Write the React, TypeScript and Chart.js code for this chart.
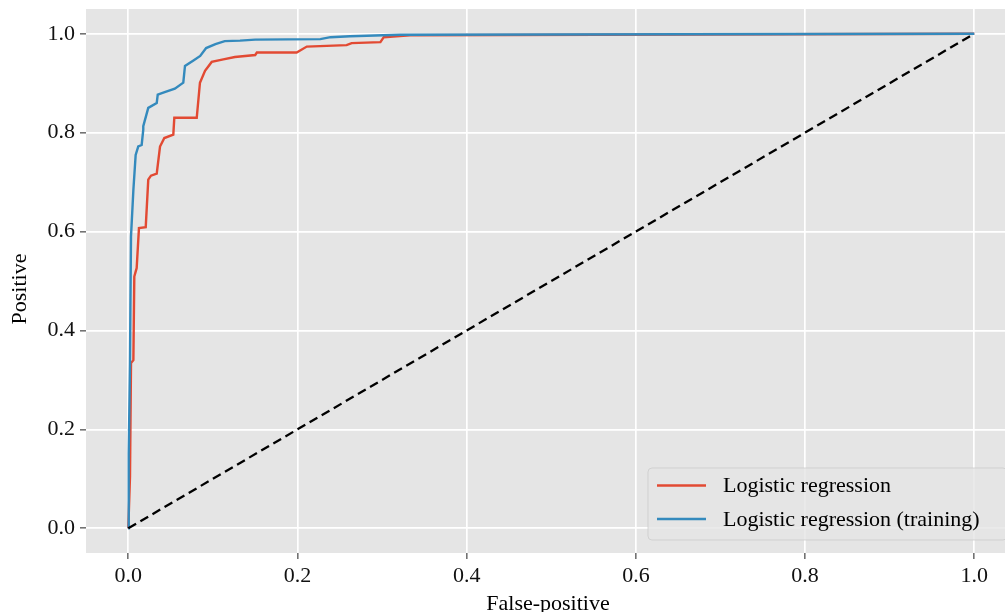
import React, { useEffect, useRef } from "react";
import { Chart, registerables } from "chart.js";

Chart.register(...registerables);

// ROC curve: test set (red)
const RED_FPR = [
  0, 0.002, 0.0032, 0.006, 0.0071, 0.0087, 0.0099, 0.0126, 0.0206, 0.0236, 0.0268,
  0.0336, 0.0375, 0.0426, 0.0532, 0.0544, 0.0809, 0.0847, 0.0907, 0.0986, 0.1123,
  0.126, 0.15, 0.152, 0.199, 0.211, 0.258, 0.264, 0.298, 0.302, 0.317, 0.333, 1.0,
];
const RED_TPR = [
  0, 0.104, 0.334, 0.34, 0.509, 0.519, 0.526, 0.607, 0.609, 0.705, 0.713,
  0.717, 0.772, 0.789, 0.796, 0.83, 0.83, 0.901, 0.925, 0.943, 0.948,
  0.953, 0.957, 0.962, 0.962, 0.974, 0.977, 0.981, 0.983, 0.993, 0.995, 0.997, 1.0,
];

// ROC curve: training set (blue)
const BLUE_FPR = [
  0, 0.0005, 0.002, 0.0025, 0.0032, 0.006, 0.0087, 0.0118, 0.0158, 0.0177, 0.0177,
  0.0236, 0.0336, 0.0348, 0.043, 0.055, 0.065, 0.067, 0.077, 0.085, 0.092, 0.103,
  0.114, 0.132, 0.15, 0.227, 0.239, 0.262, 0.321, 1.0,
];
const BLUE_TPR = [
  0, 0.15, 0.334, 0.45, 0.59, 0.684, 0.755, 0.772, 0.775, 0.806, 0.813,
  0.85, 0.86, 0.877, 0.882, 0.889, 0.901, 0.935, 0.946, 0.955, 0.971, 0.979,
  0.985, 0.986, 0.988, 0.989, 0.993, 0.995, 0.998, 1.0,
];

// Chance diagonal
const CHANCE_FPR = [0, 1];
const CHANCE_TPR = [0, 1];

const X_TICKS = [0, 0.2, 0.4, 0.6, 0.8, 1.0];
const Y_TICKS = [0, 0.2, 0.4, 0.6, 0.8, 1.0];
const SERIES_LABELS = ["Logistic regression", "Logistic regression (training)"];
const SERIES_COLORS = ["#E24A33", "#348ABD"];
const X_TITLE = "False-positive";
const Y_TITLE = "Positive";

const FONT_FAMILY = "'Liberation Serif', 'Times New Roman', serif";
const FONT_SIZE = 22;

const zip = (xs: number[], ys: number[]) => xs.map((x, i) => ({ x, y: ys[i] }));

const bgPlugin = {
  id: "plotBg",
  beforeDraw(chart: any) {
    const { ctx, chartArea } = chart;
    ctx.save();
    ctx.fillStyle = "#E5E5E5";
    ctx.fillRect(chartArea.left, chartArea.top, chartArea.right - chartArea.left, chartArea.bottom - chartArea.top);
    ctx.restore();
  },
};

const overlayPlugin = {
  id: "overlay",
  afterDraw(chart: any) {
    const { ctx, chartArea } = chart;
    const { right, bottom } = chartArea;
    ctx.save();
    // legend box
    const bx = right - 357;
    const by = bottom - 85;
    const bw = 359;
    const bh = 72;
    const r = 4;
    ctx.beginPath();
    ctx.moveTo(bx + r, by);
    ctx.lineTo(bx + bw - r, by);
    ctx.arcTo(bx + bw, by, bx + bw, by + r, r);
    ctx.lineTo(bx + bw, by + bh - r);
    ctx.arcTo(bx + bw, by + bh, bx + bw - r, by + bh, r);
    ctx.lineTo(bx + r, by + bh);
    ctx.arcTo(bx, by + bh, bx, by + bh - r, r);
    ctx.lineTo(bx, by + r);
    ctx.arcTo(bx, by, bx + r, by, r);
    ctx.closePath();
    ctx.fillStyle = "rgba(229,229,229,0.8)";
    ctx.fill();
    ctx.strokeStyle = "rgba(204,204,204,0.8)";
    ctx.lineWidth = 1;
    ctx.stroke();

    ctx.font = `${FONT_SIZE}px ${FONT_FAMILY}`;
    ctx.textBaseline = "middle";
    ctx.textAlign = "left";
    const rows = [by + 17.5, by + 51];
    SERIES_LABELS.forEach((lab, i) => {
      ctx.strokeStyle = SERIES_COLORS[i];
      ctx.lineWidth = 2.4;
      ctx.beginPath();
      ctx.moveTo(bx + 9, rows[i]);
      ctx.lineTo(bx + 58, rows[i]);
      ctx.stroke();
      ctx.fillStyle = "#000";
      ctx.fillText(lab, bx + 75, rows[i] + 1);
    });

    // axis titles
    ctx.fillStyle = "#000";
    ctx.textAlign = "center";
    ctx.textBaseline = "alphabetic";
    ctx.fillText(X_TITLE, 548, 610);
    ctx.save();
    ctx.translate(26, 289);
    ctx.rotate(-Math.PI / 2);
    ctx.fillText(Y_TITLE, 0, 0);
    ctx.restore();
    ctx.restore();
  },
};

export default function App() {
  const ref = useRef<HTMLCanvasElement | null>(null);
  useEffect(() => {
    if (!ref.current) return;
    const chart = new Chart(ref.current, {
      type: "scatter",
      data: {
        datasets: [
          {
            label: "chance",
            data: zip(CHANCE_FPR, CHANCE_TPR),
            showLine: true,
            borderColor: "#000",
            borderWidth: 2.3,
            borderDash: [9, 5],
            pointRadius: 0,
            order: 0,
          },
          {
            label: SERIES_LABELS[1],
            data: zip(BLUE_FPR, BLUE_TPR),
            showLine: true,
            borderColor: SERIES_COLORS[1],
            borderWidth: 2.4,
            pointRadius: 0,
            tension: 0,
            order: 1,
          },
          {
            label: SERIES_LABELS[0],
            data: zip(RED_FPR, RED_TPR),
            showLine: true,
            borderColor: SERIES_COLORS[0],
            borderWidth: 2.4,
            pointRadius: 0,
            tension: 0,
            order: 2,
          },
        ],
      },
      options: {
        responsive: false,
        animation: false,
        events: [],
        layout: { padding: { top: 9, right: 0, left: 0, bottom: 0 } },
        plugins: { legend: { display: false }, tooltip: { enabled: false } },
        scales: {
          x: {
            type: "linear",
            min: -0.05,
            max: 1.0363,
            afterBuildTicks: (s: any) => {
              s.ticks = X_TICKS.map((v) => ({ value: v }));
            },
            afterFit: (s: any) => {
              s.height = 59;
              s.paddingLeft = 0;
              s.paddingRight = 0;
            },
            ticks: {
              font: { family: FONT_FAMILY, size: FONT_SIZE },
              color: "#111",
              padding: 4,
              maxRotation: 0,
              autoSkip: false,
              callback: (v: any) => Number(v).toFixed(1),
            },
            grid: { color: "#FFFFFF", lineWidth: 1.7, tickColor: "#444", tickLength: 6, tickWidth: 1.2 },
            border: { display: false },
          },
          y: {
            type: "linear",
            min: -0.05,
            max: 1.05,
            afterBuildTicks: (s: any) => {
              s.ticks = Y_TICKS.map((v) => ({ value: v }));
            },
            afterFit: (s: any) => {
              s.width = 86;
              s.paddingTop = 0;
              s.paddingBottom = 0;
            },
            ticks: {
              font: { family: FONT_FAMILY, size: FONT_SIZE },
              color: "#111",
              padding: 5,
              autoSkip: false,
              callback: (v: any) => Number(v).toFixed(1),
            },
            grid: { color: "#FFFFFF", lineWidth: 1.7, tickColor: "#444", tickLength: 6, tickWidth: 1.2 },
            border: { display: false },
          },
        },
      },
      plugins: [bgPlugin, overlayPlugin],
    });
    return () => chart.destroy();
  }, []);
  return (
    <div style={{ position: "fixed", left: 0, top: 0, width: 1005, height: 612, background: "#fff" }}>
      <canvas ref={ref} width={1005} height={612} style={{ width: 1005, height: 612, display: "block" }} />
    </div>
  );
}
